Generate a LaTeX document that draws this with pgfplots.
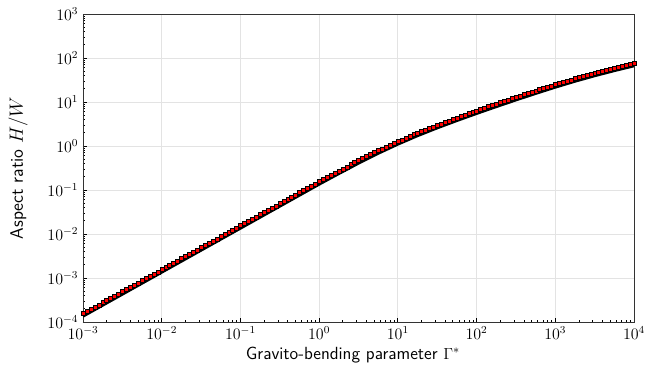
\documentclass[border=0pt]{standalone}
\usepackage{fontspec}
\usepackage{pgfplots}
\pgfplotsset{compat=1.18}
\usepackage{pgfplotstable}

\pgfplotstableread{
x y
1e-3 1.567e-4
1.122e-3 1.758e-4
1.259e-3 1.973e-4
1.413e-3 2.214e-4
1.585e-3 2.483e-4
1.778e-3 2.786e-4
1.995e-3 3.126e-4
2.239e-3 3.508e-4
2.512e-3 3.936e-4
2.818e-3 4.415e-4
3.162e-3 4.954e-4
3.548e-3 5.559e-4
3.981e-3 6.237e-4
4.467e-3 6.999e-4
5.012e-3 7.853e-4
5.623e-3 8.810e-4
6.310e-3 9.887e-4
7.079e-3 1.109e-3
7.943e-3 1.245e-3
8.913e-3 1.396e-3
1e-2 1.567e-3
1.122e-2 1.758e-3
1.259e-2 1.973e-3
1.413e-2 2.214e-3
1.585e-2 2.483e-3
1.778e-2 2.786e-3
1.995e-2 3.126e-3
2.239e-2 3.508e-3
2.512e-2 3.936e-3
2.818e-2 4.415e-3
3.162e-2 4.954e-3
3.548e-2 5.559e-3
3.981e-2 6.237e-3
4.467e-2 6.999e-3
5.012e-2 7.853e-3
5.623e-2 8.810e-3
6.310e-2 9.887e-3
7.079e-2 1.109e-2
7.943e-2 1.245e-2
8.913e-2 1.396e-2
1e-1 1.567e-2
1.122e-1 1.758e-2
1.259e-1 1.973e-2
1.413e-1 2.214e-2
1.585e-1 2.483e-2
1.778e-1 2.786e-2
1.995e-1 3.126e-2
2.239e-1 3.508e-2
2.512e-1 3.936e-2
2.818e-1 4.415e-2
3.162e-1 4.954e-2
3.548e-1 5.559e-2
3.981e-1 6.237e-2
4.467e-1 6.999e-2
5.012e-1 7.853e-2
5.623e-1 8.810e-2
6.310e-1 9.887e-2
7.079e-1 1.109e-1
7.943e-1 1.245e-1
8.913e-1 1.396e-1
1 0.1567
1.122 0.1745
1.259 0.1954
1.413 0.2186
1.585 0.2444
1.778 0.2730
1.995 0.3049
2.239 0.3401
2.512 0.3792
2.818 0.4225
3.162 0.4705
3.548 0.5232
3.981 0.5810
4.467 0.6443
5.012 0.7134
5.623 0.7887
6.310 0.8706
7.079 0.9596
7.943 1.0561
8.913 1.1606
10 1.2735
11.22 1.3954
12.59 1.5269
14.13 1.6684
15.85 1.8206
17.78 1.9838
19.95 2.1587
22.39 2.3458
25.12 2.5457
28.18 2.7587
31.62 2.9853
35.48 3.2278
39.81 3.4874
44.67 3.7663
50.12 4.0645
56.23 4.3843
63.10 4.7262
70.79 5.0921
79.43 5.4828
89.13 5.9005
100 6.3460
112.2 6.8219
125.9 7.3316
141.3 7.8759
158.5 8.4589
177.8 9.0803
199.5 9.7454
223.9 10.454
251.2 11.212
281.8 12.020
316.2 12.882
354.8 13.800
398.1 14.777
446.7 15.816
501.2 16.921
562.3 18.093
631.0 19.338
707.9 20.659
794.3 22.059
891.3 23.544
1000 25.119
1122 26.780
1259 28.524
1413 30.353
1585 32.270
1778 34.277
1995 36.374
2239 38.566
2512 40.851
2818 43.231
3162 45.708
3548 48.296
3981 50.980
4467 53.791
5012 56.702
5623 59.747
6310 62.893
7079 66.175
7943 69.567
8913 73.097
10000 76.737
}\markerdata

\pgfplotstableread{
x y
1e-3 1.349e-4
1e-2 1.349e-3
1e-1 1.349e-2
0.3162 0.04265
1 0.1349
1.778 0.2351
3.162 0.4051
5.623 0.6791
10 1.0965
17.78 1.7081
31.62 2.5703
56.23 3.7749
100 5.4639
177.8 7.8181
316.2 11.091
562.3 15.578
1000 21.627
1778 29.513
3162 39.355
5623 51.442
10000 66.07
}\linedata

\begin{document}
\begin{tikzpicture}
\begin{axis}[
  scale only axis,
  width=413.25pt, height=231pt,
  xmode=log, ymode=log,
  xmin=1e-3, xmax=1e4, ymin=1e-4, ymax=1e3,
  xtick={1e-3,1e-2,1e-1,1,1e1,1e2,1e3,1e4},
  ytick={1e-4,1e-3,1e-2,1e-1,1,1e1,1e2,1e3},
  xtick pos=bottom, ytick pos=left,
  tick align=inside,
  major tick length=3pt, minor tick length=1.6pt,
  tick style={black, line width=0.6pt},
  axis line style={black!80, line width=0.7pt},
  grid=major,
  major grid style={gray!22, line width=0.7pt},
  tick label style={font=\fontsize{11.5}{13}\selectfont},
  xlabel={Gravito-bending parameter $\Gamma^{*}$},
  ylabel={Aspect ratio $H/W$},
  every axis x label/.style={at={(axis description cs:0.49,-0.106)}, anchor=center, font=\sffamily\fontsize{13.2}{15}\selectfont},
  every axis y label/.style={at={(axis description cs:-0.118,0.5)}, rotate=90, anchor=center, font=\sffamily\fontsize{13.5}{16}\selectfont},
  clip=true,
]
\addplot[black, line width=2.1pt, no markers] table[x=x, y=y] {\linedata};
\addplot[only marks, mark=square*, mark size=1.5pt,
  mark options={fill=red, draw=black, line width=0.15pt}] table[x=x, y=y] {\markerdata};
\end{axis}
\pgfresetboundingbox
\path[use as bounding box] ([shift={(-62.25pt,-34.5pt)}]current axis.south west) rectangle ([shift={(15.75pt,10.5pt)}]current axis.north east);
\end{tikzpicture}
\end{document}
